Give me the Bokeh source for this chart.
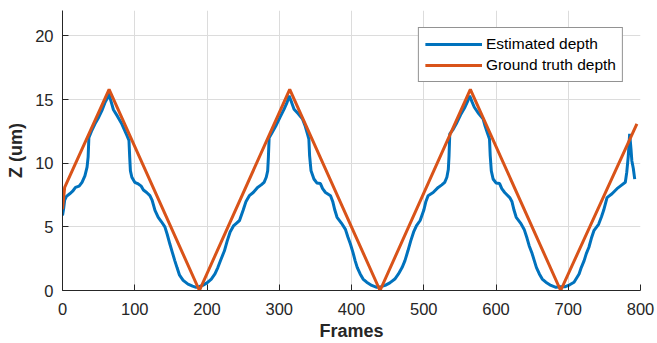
from bokeh.plotting import figure
from bokeh.models import Range1d, FixedTicker
from bokeh.embed import file_html
from bokeh.resources import INLINE

# Ground truth depth (triangle wave)
gt_x = [0, 3, 64.5, 189.5, 314.5, 439.5, 564.5, 689.5, 795]
gt_y = [6.4, 8.1, 15.8, 0.0, 15.8, 0.0, 15.8, 0.0, 13.1]

# Estimated depth
est_x = [0, 1.5, 3, 5.5, 10, 14, 18, 23, 27, 31, 34, 35.5, 36.5, 40, 45, 50, 55, 59, 62, 64,
         67, 70.5, 76, 82, 89, 92, 93, 94, 96, 100, 104, 109, 112, 116.5, 121, 124, 128, 132.5,
         137, 141.7, 145, 148.6, 152, 155.4, 158.5, 162, 167, 173.7, 180, 185, 189, 194, 200,
         206, 211, 215, 219, 224, 228, 232, 237, 241, 245,
         250, 254, 258.6, 264, 270, 275, 279, 282, 284, 285, 286, 290, 295, 301, 306.7, 311,
         313.6, 317, 320.5, 326, 332, 336, 339, 341, 342, 344, 348, 352, 357, 360, 364, 371,
         374, 377, 380, 386, 391.6, 395, 398.5, 402, 405, 408, 412, 416, 421, 428, 435, 441,
         446.6, 453, 460, 465, 470, 474, 478, 482, 486, 490, 495,
         500, 503, 506, 513, 520, 525, 529, 532, 534, 535, 536, 540, 545, 551, 557, 561, 563.5,
         567, 570, 576, 582, 585, 588, 591, 592, 593.5, 596, 600, 605, 608, 612, 619, 622, 625,
         628, 634, 639, 643, 646, 650, 653, 656, 660, 664, 669, 676, 683, 689, 696, 702, 708,
         715, 718, 722, 725, 728.6, 732, 735.5, 742, 746, 749, 753.7, 760.6, 767.5, 772, 779,
         781, 783, 785, 787, 788, 790, 792]
est_y = [5.9, 6.4, 7.1, 7.4, 7.6, 7.8, 8.1, 8.2, 8.5, 9.0, 9.7, 10.5, 12.0, 12.5, 13.1, 13.6,
         14.2, 14.8, 15.1, 15.5,
         14.9, 14.2, 13.7, 13.1, 12.2, 11.8, 10.5, 9.4, 8.9, 8.5, 8.4, 8.2, 7.9, 7.7, 7.45, 7.1,
         6.3, 5.75, 5.4, 5.0, 4.4, 3.65, 3.0, 2.35, 1.8, 1.2, 0.8, 0.5, 0.35, 0.25, 0.3, 0.4,
         0.6, 0.9, 1.3, 1.8, 2.4, 3.1, 3.9, 4.6, 5.1, 5.3, 5.5,
         6.3, 7.0, 7.45, 7.7, 8.1, 8.3, 8.5, 8.9, 9.4, 10.5, 12.0, 12.4, 12.9, 13.6, 14.25, 14.8,
         15.3, 14.8, 14.25, 13.9, 13.5, 12.9, 12.3, 11.9, 10.6, 9.4, 8.76, 8.45, 8.4, 8.0, 7.7,
         7.45, 7.0, 6.3, 5.75, 5.3, 4.8, 4.2, 3.65, 3.0, 2.35, 1.8, 1.3, 0.9, 0.65, 0.4, 0.25,
         0.3, 0.4, 0.6, 0.9, 1.3, 1.8, 2.35, 3.1, 3.9, 4.6, 5.1, 5.5,
         6.3, 7.0, 7.45, 7.7, 8.1, 8.3, 8.5, 8.9, 9.5, 10.6, 12.3, 12.6, 13.1, 13.8, 14.4, 14.9,
         15.3, 14.8, 14.4, 13.9, 13.5, 12.9, 12.4, 11.9, 10.6, 9.4, 8.76, 8.45, 8.4, 8.0, 7.7,
         7.3, 7.0, 6.3, 5.75, 5.3, 4.8, 4.1, 3.5, 2.9, 2.35, 1.8, 1.3, 0.9, 0.65, 0.4, 0.25,
         0.3, 0.3, 0.45, 0.65, 1.3, 1.8, 2.35, 2.9, 3.4, 4.1, 4.7, 5.2, 5.8, 6.3, 7.3, 7.6, 8.0,
         8.2, 8.5, 9.3, 10.5, 12.3, 11.0, 10.2, 9.6, 8.75]

x_ticks = [0, 100, 200, 300, 400, 500, 600, 700, 800]
y_ticks = [0, 5, 10, 15, 20]

FONT = "Liberation Sans"
AX = "#262626"

p = figure(frame_width=578, frame_height=280, output_backend="svg", toolbar_location=None,
           x_range=Range1d(0, 800), y_range=Range1d(0, 22),
           min_border_left=62, min_border_right=17, min_border_top=10, min_border_bottom=53)
p.outline_line_color = None
p.background_fill_color = "white"
p.border_fill_color = "white"

p.line(est_x, est_y, line_color="#0072BD", line_width=3, legend_label="Estimated depth")
p.line(gt_x, gt_y, line_color="#D95319", line_width=3, legend_label="Ground truth depth")

p.xaxis.ticker = FixedTicker(ticks=x_ticks)
p.yaxis.ticker = FixedTicker(ticks=y_ticks)
for ax in (p.xaxis, p.yaxis):
    ax.axis_line_color = AX
    ax.axis_line_width = 1
    ax.major_tick_line_color = AX
    ax.major_tick_in = 6
    ax.major_tick_out = 0
    ax.minor_tick_line_color = None
    ax.major_label_text_font = FONT
    ax.major_label_text_font_size = "16.5px"
    ax.major_label_text_color = AX
    ax.axis_label_text_font = FONT
    ax.axis_label_text_font_size = "18px"
    ax.axis_label_text_font_style = "bold"
    ax.axis_label_text_color = AX
p.xaxis.axis_label = "Frames"
p.yaxis.axis_label = "Z (um)"
p.xaxis.major_label_standoff = 12
p.xaxis.axis_label_standoff = 3
p.yaxis.major_label_standoff = 9
p.yaxis.axis_label_standoff = 6

for g in (p.xgrid, p.ygrid):
    g.grid_line_color = "#dcdcdc"
    g.grid_line_width = 1

lg = p.legend[0]
lg.location = "top_right"
lg.margin = 17
lg.border_line_color = AX
lg.border_line_width = 1
lg.background_fill_color = "white"
lg.background_fill_alpha = 1
lg.label_text_font = FONT
lg.label_text_font_size = "15.5px"
lg.label_text_color = "black"
lg.glyph_width = 57
lg.glyph_height = 20
lg.label_height = 20
lg.label_standoff = 4
lg.padding = 6
lg.spacing = 1

open("out.html", "w").write(file_html(p, INLINE))
